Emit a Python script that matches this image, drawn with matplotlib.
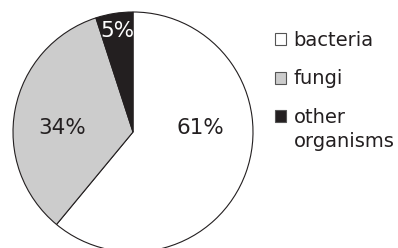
import matplotlib.pyplot as plt
from matplotlib.text import Annotation

labels = ["bacteria", "fungi", "other"]
label_tail = "organisms"
shares = [61, 34, 5]
colors = ["#ffffff", "#cccccc", "#231f20"]
pct_colors = ["#231f20", "#231f20", "#ffffff"]
# label spots in radius units (placed by hand in the original)
pct_pos = [(0.56, 0.03), (-0.59, 0.03), (-0.13, 0.84)]

fig = plt.figure(figsize=(3.98, 2.48), dpi=100)
ax = fig.add_axes([13 / 398, -4 / 248, 240 / 398, 240 / 248])

wedges, texts, autotexts = ax.pie(
    shares, colors=colors, startangle=90, counterclock=False,
    autopct="%d%%", wedgeprops=dict(edgecolor="#231f20", linewidth=0.8),
    textprops=dict(fontsize=15.5),
)
for t, c, p in zip(autotexts, pct_colors, pct_pos):
    t.set_color(c)
    t.set_position(p)
ax.set_xlim(-1, 1)
ax.set_ylim(-1, 1)
ax.set_aspect("equal")

leg = fig.legend(
    wedges, labels, loc="upper left", bbox_to_anchor=(275 / 398, 1 - 31 / 248),
    frameon=False, fontsize=14, handlelength=0.57, handleheight=0.57,
    handletextpad=0.38, labelspacing=1.0, borderpad=0, borderaxespad=0,
)
for h in leg.legend_handles:
    h.set_edgecolor("#555555")
    h.set_linewidth(0.8)
for t in leg.get_texts():
    t.set_color("#231f20")

# second line of the last legend entry sits under "other"
tail = Annotation(label_tail, xy=(0, 0), xycoords=leg.get_texts()[2],
                  xytext=(0, -24), textcoords="offset pixels",
                  fontsize=14, color="#231f20", ha="left", va="bottom",
                  annotation_clip=False, zorder=6)
fig.add_artist(tail)

fig.savefig("out.png", dpi=100)
